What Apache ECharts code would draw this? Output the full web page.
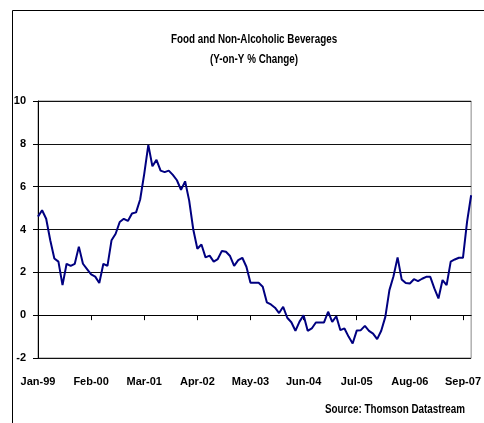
<!DOCTYPE html>
<html><head><meta charset="utf-8">
<script src="https://cdn.jsdelivr.net/npm/echarts@6/dist/echarts.min.js"></script>
<style>html,body{margin:0;padding:0;background:#fff}#c{width:484px;height:423px}</style>
</head><body><div id="c"></div>
<script>
const monthNames = ['Jan','Feb','Mar','Apr','May','Jun','Jul','Aug','Sep','Oct','Nov','Dec'];
const years = ['99','00','01','02','03','04','05','06','07'];
const tickLabels = ['Jan-99','Feb-00','Mar-01','Apr-02','May-03','Jun-04','Jul-05','Aug-06','Sep-07'];
const yTicks = [-2, 0, 2, 4, 6, 8, 10];
const values = [
  4.6, 4.9, 4.5, 3.5, 2.65, 2.5, 1.4, 2.4, 2.3, 2.4, 3.2, 2.4,
  2.15, 1.9, 1.8, 1.5, 2.4, 2.3, 3.5, 3.8, 4.35, 4.5, 4.4, 4.75,
  4.8, 5.4, 6.6, 7.95, 6.95, 7.25, 6.75, 6.68, 6.75, 6.55, 6.3, 5.85,
  6.25, 5.35, 4.0, 3.1, 3.3, 2.7, 2.78, 2.5, 2.62, 3.0, 2.96, 2.76,
  2.3, 2.57, 2.68, 2.26, 1.51, 1.51, 1.51, 1.33, 0.6, 0.5, 0.35, 0.1,
  0.39, -0.12, -0.33, -0.73, -0.3, 0.0, -0.73, -0.62, -0.34, -0.34, -0.34, 0.16,
  -0.31, -0.05, -0.7, -0.62, -1.0, -1.32, -0.72, -0.7, -0.5, -0.73, -0.86, -1.12,
  -0.73, -0.08, 1.17, 1.82, 2.7, 1.67, 1.5, 1.48, 1.68, 1.59, 1.7, 1.79,
  1.79, 1.25, 0.78, 1.64, 1.4, 2.5, 2.6, 2.68, 2.68, 4.36, 5.6
];
const titleLines = ['Food and Non-Alcoholic Beverages', '(Y-on-Y % Change)'];
const sourceText = 'Source: Thomson Datastream';

const categories = [];
for (let i = 0; i < values.length; i++) {
  categories.push(monthNames[i % 12] + '-' + years[Math.floor(i / 12)]);
}
const showTick = (idx, val) => tickLabels.indexOf(val) >= 0;
const FONT = '"Liberation Sans Narrow", "Arial Narrow", "Liberation Sans", Arial, sans-serif';

const chart = echarts.init(document.getElementById('c'));
chart.setOption({
  animation: false,
  backgroundColor: '#fff',
  graphic: [
    { type: 'rect', shape: { x: 12.5, y: 10.5, width: 480, height: 420 },
      style: { fill: 'none', stroke: '#000', lineWidth: 1 }, silent: true },
    { type: 'text', x: 254, y: 40, scaleX: 0.82,
      style: { text: titleLines[0], textAlign: 'center', textVerticalAlign: 'middle',
        font: 'bold 12px ' + FONT, fill: '#000' } },
    { type: 'text', x: 254, y: 60, scaleX: 0.82,
      style: { text: titleLines[1], textAlign: 'center', textVerticalAlign: 'middle',
        font: 'bold 12px ' + FONT, fill: '#000' } },
    { type: 'text', x: 465, y: 410, scaleX: 0.82,
      style: { text: sourceText, textAlign: 'right', textVerticalAlign: 'middle',
        font: 'bold 12px ' + FONT, fill: '#000' } }
  ],
  grid: { left: 38, right: 12, top: 101, bottom: 65, show: true, borderColor: '#888', borderWidth: 1 },
  xAxis: [
    { type: 'category', data: categories, boundaryGap: false, position: 'bottom',
      axisLine: { onZero: true, lineStyle: { color: '#000', width: 1 } },
      axisTick: { show: true, interval: showTick, length: 5, lineStyle: { color: '#000' } },
      axisLabel: { show: false }, splitLine: { show: false } },
    { type: 'category', data: categories, boundaryGap: false, position: 'bottom',
      axisLine: { show: false, onZero: false }, axisTick: { show: false },
      axisLabel: { show: true, interval: showTick, margin: 18,
        fontFamily: FONT, fontWeight: 'bold', fontSize: 11, color: '#000' },
      splitLine: { show: false } }
  ],
  yAxis: {
    type: 'value', min: yTicks[0], max: yTicks[yTicks.length - 1], interval: 2,
    axisLine: { show: true, lineStyle: { color: '#000', width: 1 } },
    axisTick: { show: true, length: 5, lineStyle: { color: '#000' } },
    axisLabel: { margin: 12, fontFamily: FONT, fontWeight: 'bold', fontSize: 11, color: '#000' },
    splitLine: { show: true, lineStyle: { color: '#111', width: 1 } }
  },
  series: [{
    type: 'line', data: values, xAxisIndex: 0, showSymbol: false, symbol: 'none',
    lineStyle: { color: '#000080', width: 2 }, z: 5
  }]
});
</script></body></html>
